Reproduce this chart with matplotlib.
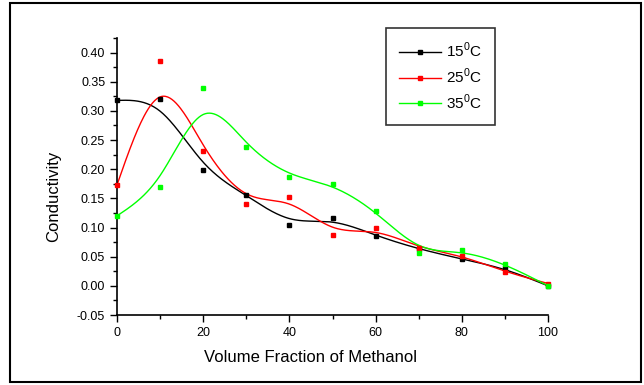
import numpy as np
import matplotlib.pyplot as plt
from matplotlib.patches import Rectangle
from matplotlib.lines import Line2D

plt.rcParams['font.family'] = ['Liberation Sans', 'DejaVu Sans']
plt.rcParams['mathtext.fontset'] = 'custom'
plt.rcParams['mathtext.rm'] = 'Liberation Sans'

# data
methanol = [0, 10, 20, 30, 40, 50, 60, 70, 80, 90, 100]
cond_15 = [0.318, 0.320, 0.199, 0.156, 0.105, 0.116, 0.086, 0.063, 0.046, 0.030, 0.000]
cond_25 = [0.173, 0.385, 0.231, 0.141, 0.153, 0.088, 0.099, 0.065, 0.052, 0.024, 0.004]
cond_35 = [0.120, 0.169, 0.339, 0.238, 0.187, 0.175, 0.129, 0.057, 0.061, 0.038, 0.000]
labels = ['15$^0$C', '25$^0$C', '35$^0$C']
colors = ['#000000', '#ff0000', '#00ff00']


def bspline(xs, ys, per_seg=40):
    # uniform cubic B-spline, data points as control points,
    # end points reflected so the curve starts/ends on the data
    P = np.column_stack([xs, ys]).astype(float)
    P = np.vstack([2 * P[0] - P[1], P, 2 * P[-1] - P[-2]])
    u = np.linspace(0, 1, per_seg, endpoint=False)
    b0 = (1 - u) ** 3 / 6
    b1 = (3 * u ** 3 - 6 * u ** 2 + 4) / 6
    b2 = (-3 * u ** 3 + 3 * u ** 2 + 3 * u + 1) / 6
    b3 = u ** 3 / 6
    pts = []
    for i in range(len(P) - 3):
        seg = (np.outer(b0, P[i]) + np.outer(b1, P[i + 1])
               + np.outer(b2, P[i + 2]) + np.outer(b3, P[i + 3]))
        pts.append(seg)
    last = (P[-3] + 4 * P[-2] + P[-1]) / 6
    pts.append(last[None, :])
    curve = np.vstack(pts)
    return curve[:, 0], curve[:, 1]


fig = plt.figure(figsize=(6.44, 3.85), dpi=100)
ax = fig.add_axes([117 / 644, 70 / 385, 431 / 644, 277 / 385])

handles = []
for ys, c, lab in zip([cond_15, cond_25, cond_35], colors, labels):
    cx, cy = bspline(methanol, ys)
    ax.plot(cx, cy, color=c, lw=1.0, clip_on=False)
    ax.plot(methanol, ys, 's', color=c, ms=3.5, mec=c, clip_on=False, zorder=3)
    handles.append(Line2D([], [], color=c, lw=1.0, marker='s', ms=3.5, label=lab))

ax.set_xlim(0, 100)
ax.set_ylim(-0.05, 0.425)
ax.set_xticks(np.arange(0, 101, 20))
ax.set_xticks(np.arange(0, 101, 10), minor=True)
ax.set_yticks(np.arange(-0.05, 0.41, 0.05))
ax.set_yticks(np.arange(-0.05, 0.426, 0.025), minor=True)
ax.set_yticklabels([f'{v:.2f}' for v in np.arange(-0.05, 0.41, 0.05)])
ax.tick_params(which='both', direction='out', labelsize=9, width=1)
ax.tick_params(which='major', length=5)
ax.tick_params(which='minor', length=3)
for s in ['top', 'right']:
    ax.spines[s].set_visible(False)
for s in ['left', 'bottom']:
    ax.spines[s].set_linewidth(1.2)

ax.set_xlabel('Volume Fraction of Methanol', fontsize=12)
ax.xaxis.set_label_coords(0.450, -0.125)
ax.set_ylabel('Conductivity', fontsize=12)
ax.yaxis.set_label_coords(-0.13, 0.43)

leg = ax.legend(handles=handles, loc='upper left', bbox_to_anchor=(386 / 644, 1 - 28 / 385),
                bbox_transform=fig.transFigure, fontsize=11, frameon=True, fancybox=False,
                handlelength=2.75, handletextpad=0.33, labelspacing=0.42, borderpad=0.85,
                borderaxespad=0)
leg.get_frame().set_edgecolor('black')
leg.get_frame().set_linewidth(1.2)

# outer frame around the whole picture
fig.patches.append(Rectangle((10 / 644, 3 / 385), 631 / 644, 379 / 385, transform=fig.transFigure,
                             fill=False, edgecolor='black', lw=1.5))

fig.savefig('out.png', dpi=100)
